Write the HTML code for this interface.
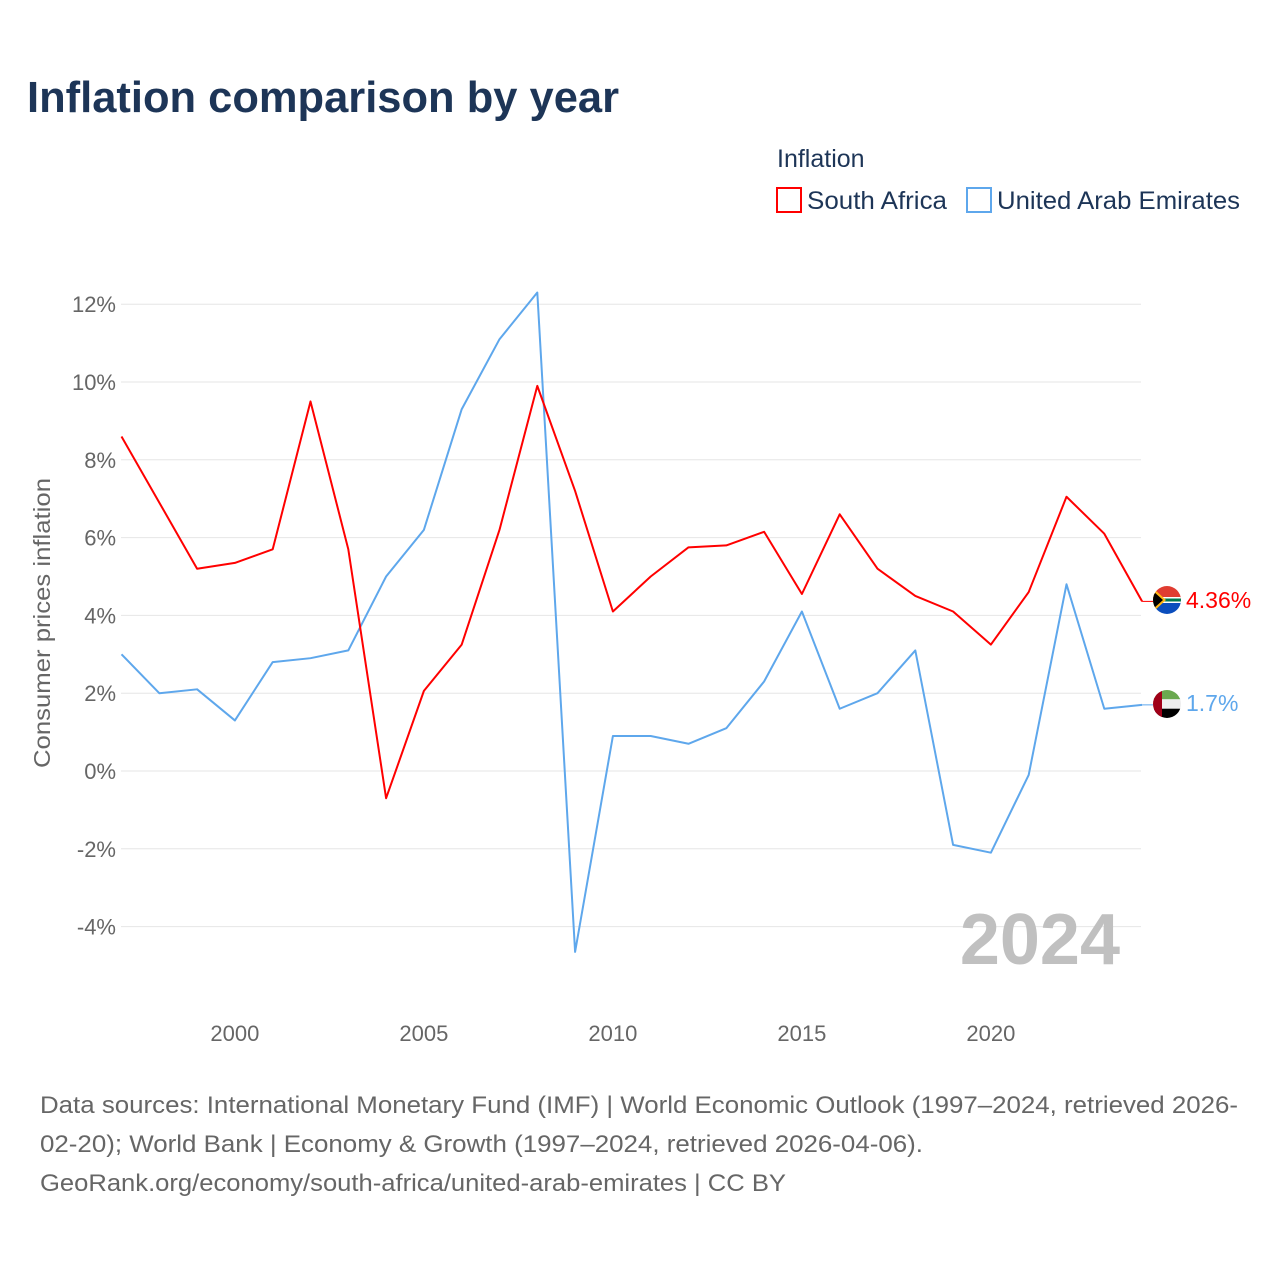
<!DOCTYPE html>
<html><head><meta charset="utf-8">
<style>
body{margin:0;background:#fff;font-family:"Liberation Sans",sans-serif;}
svg text{font-family:"Liberation Sans",sans-serif;}
</style></head>
<body>
<svg id="chart" width="1280" height="1280" viewBox="0 0 1280 1280" xmlns="http://www.w3.org/2000/svg">
<defs>
<clipPath id="c1"><circle cx="1167" cy="600" r="14"/></clipPath>
<clipPath id="c2"><circle cx="1167" cy="704" r="14"/></clipPath>
</defs>
<text x="27" y="112" font-size="44" font-weight="bold" fill="#1d3557" textLength="592" lengthAdjust="spacingAndGlyphs">Inflation comparison by year</text>
<g>
<text x="777" y="167" font-size="25" fill="#1d3557">Inflation</text>
<g><rect x="777" y="188" width="24" height="24" fill="none" stroke="#ff0000" stroke-width="2"/><text x="807" y="209" font-size="25" fill="#1d3557" textLength="140" lengthAdjust="spacingAndGlyphs">South Africa</text></g>
<g><rect x="967" y="188" width="24" height="24" fill="none" stroke="#5ea7ec" stroke-width="2"/><text x="997" y="209" font-size="25" fill="#1d3557" textLength="243" lengthAdjust="spacingAndGlyphs">United Arab Emirates</text></g>
</g>
<g id="grid"></g>
<g id="yticks"></g>
<g id="xticks"></g>
<text transform="translate(50,623) rotate(-90)" text-anchor="middle" font-size="23" fill="#666" textLength="290" lengthAdjust="spacingAndGlyphs">Consumer prices inflation</text>
<text x="1120" y="964" text-anchor="end" font-size="72" font-weight="bold" fill="#c0c0c0">2024</text>
<g id="series"></g>
<g clip-path="url(#c1)">
<rect x="1153" y="586" width="28" height="14" fill="#e03c31"/><rect x="1153" y="600" width="28" height="14" fill="#0b4ebd"/>
<rect x="1153" y="597" width="28" height="6" fill="#fff"/><rect x="1153" y="598.5" width="28" height="3" fill="#007a4d"/>
<polygon points="1153,588 1166,600 1153,612" fill="#ffb612"/><polygon points="1153,591 1163,600 1153,609" fill="#000"/>
</g>
<g clip-path="url(#c2)">
<rect x="1153" y="690" width="28" height="9.3" fill="#6aa84f"/><rect x="1153" y="699.3" width="28" height="9.4" fill="#eee"/><rect x="1153" y="708.7" width="28" height="9.3" fill="#000"/><rect x="1153" y="690" width="9" height="28" fill="#a00018"/>
</g>
<text x="1186" y="608" font-size="23" fill="#ff0000">4.36%</text>
<text x="1186" y="711" font-size="23" fill="#5ea7ec">1.7%</text>
<g font-size="24" fill="#666">
<text x="40" y="1113" textLength="1198" lengthAdjust="spacingAndGlyphs">Data sources: International Monetary Fund (IMF) | World Economic Outlook (1997–2024, retrieved 2026-</text>
<text x="40" y="1152" textLength="883" lengthAdjust="spacingAndGlyphs">02-20); World Bank | Economy &amp; Growth (1997–2024, retrieved 2026-04-06).</text>
<text x="40" y="1191" textLength="746" lengthAdjust="spacingAndGlyphs">GeoRank.org/economy/south-africa/united-arab-emirates | CC BY</text>
</g>
</svg>
<script>
const years=[1997,1998,1999,2000,2001,2002,2003,2004,2005,2006,2007,2008,2009,2010,2011,2012,2013,2014,2015,2016,2017,2018,2019,2020,2021,2022,2023,2024];
const southAfrica=[8.6,6.9,5.2,5.35,5.7,9.5,5.7,-0.7,2.06,3.25,6.2,9.9,7.2,4.1,5.0,5.75,5.8,6.15,4.55,6.6,5.2,4.5,4.1,3.25,4.6,7.05,6.1,4.36];
const uae=[3.0,2.0,2.1,1.3,2.8,2.9,3.1,5.0,6.2,9.3,11.1,12.3,-4.65,0.9,0.9,0.7,1.1,2.3,4.1,1.6,2.0,3.1,-1.9,-2.1,-0.1,4.8,1.6,1.7];
const yTicks=[-4,-2,0,2,4,6,8,10,12];
const xTicks=[2000,2005,2010,2015,2020];
const NS="http://www.w3.org/2000/svg";
const x=v=>121.5+(v-1997)*37.8;
const y=v=>771-v*38.9;
function mk(tag,attrs,parent){const e=document.createElementNS(NS,tag);for(const k in attrs)e.setAttribute(k,attrs[k]);parent.appendChild(e);return e;}
const grid=document.getElementById('grid'),yt=document.getElementById('yticks'),xt=document.getElementById('xticks'),ser=document.getElementById('series');
yTicks.forEach(t=>{
 const l=mk('line',{x1:121,x2:1141,y1:y(t),y2:y(t),stroke:'#e6e6e6','stroke-width':1},grid);
 
 
 const tx=mk('text',{x:116,y:y(t)+8,'text-anchor':'end','font-size':22,fill:'#666'},yt);
 tx.textContent=t+'%';
 
 
});
xTicks.forEach(t=>{
 const tx=mk('text',{x:x(t),y:1041,'text-anchor':'middle','font-size':22,fill:'#666'},xt);
 tx.textContent=t;
 
 
});
function line(vals,color,name){
 const p=mk('polyline',{points:vals.map((v,i)=>x(years[i])+','+y(v)).join(' '),fill:'none',stroke:color,'stroke-width':2,'stroke-linejoin':'round'},ser);
 
 
 const last=vals[vals.length-1];
 const c=mk('line',{x1:x(2024),x2:1153,y1:y(last),y2:y(last),stroke:color,'stroke-width':1},ser);
 
 
}
line(uae,'#5ea7ec','uae-line');
line(southAfrica,'#ff0000','south-africa-line');
</script>
</body></html>
